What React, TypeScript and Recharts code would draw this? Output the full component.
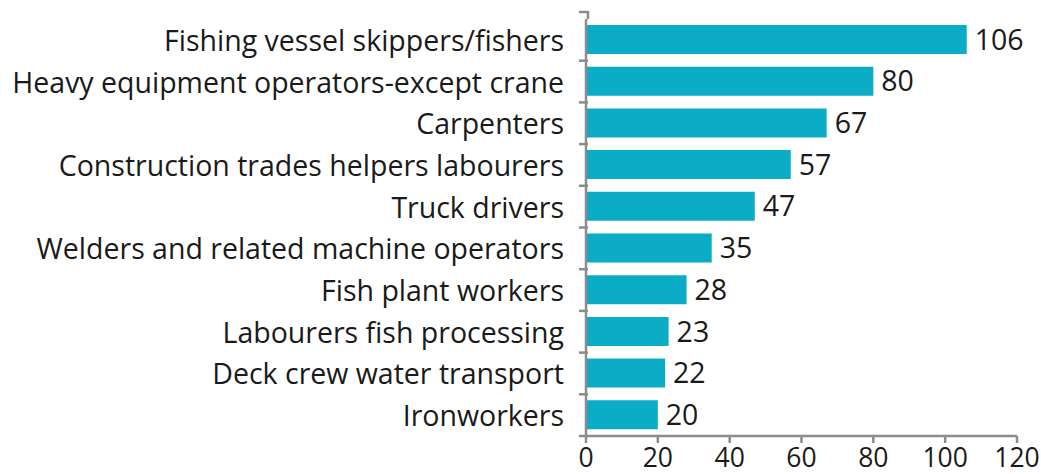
import { BarChart, Bar, XAxis, YAxis, LabelList } from 'recharts'

const occupations = [
  'Fishing vessel skippers/fishers',
  'Heavy equipment operators-except crane',
  'Carpenters',
  'Construction trades helpers labourers',
  'Truck drivers',
  'Welders and related machine operators',
  'Fish plant workers',
  'Labourers fish processing',
  'Deck crew water transport',
  'Ironworkers',
]
const counts = [106, 80, 67, 57, 47, 35, 28, 23, 22, 20]
const xTicks = [0, 20, 40, 60, 80, 100, 120]

const W = 1041
const H = 474
const TOP = 19
const X_AXIS_H = 38
const band = (H - TOP - X_AXIS_H) / occupations.length
const AXIS = '#8c8c8c'
const FONT = '"Open Sans", sans-serif'
const FS = 28.5

// category ticks sit between bars, like the original spreadsheet chart
function CategoryTick(props: any) {
  const { x, y, payload, index } = props
  const half = band / 2
  const ax = x + 10
  return (
    <g>
      {index === 0 ? (
        <>
          <line x1={ax} x2={ax} y1={y - half - 8} y2={y - half} stroke={AXIS} strokeWidth={2.5} />
          <line x1={ax - 9} x2={ax} y1={y - half - 7} y2={y - half - 7} stroke={AXIS} strokeWidth={2.5} />
        </>
      ) : (
        <line x1={ax - 9} x2={ax} y1={y - half} y2={y - half} stroke={AXIS} strokeWidth={2.5} />
      )}
      {index === occupations.length - 1 && (
        <line x1={ax - 9} x2={ax} y1={y + half} y2={y + half} stroke={AXIS} strokeWidth={2.5} />
      )}
      <text x={x - 14} y={y} textAnchor="end" dominantBaseline="central" fontSize={FS} fill="#1a1a1a" fontFamily={FONT}>
        {payload.value}
      </text>
    </g>
  )
}

export default function App() {
  const data = occupations.map((name, i) => ({ name, value: counts[i] }))

  return (
    <div style={{ position: 'absolute', left: 0, top: 0, background: '#fff' }}>
      <BarChart
        width={W}
        height={H}
        data={data}
        layout="vertical"
        margin={{ top: TOP, right: 24, bottom: 0, left: 0 }}
        barSize={29}
      >
        <XAxis
          type="number"
          domain={[0, 120]}
          ticks={xTicks}
          height={X_AXIS_H}
          axisLine={{ stroke: AXIS, strokeWidth: 2.5 }}
          tickLine={{ stroke: AXIS, strokeWidth: 2.5 }}
          tickSize={7}
          tickMargin={5}
          tick={{ fontSize: 26.5, fill: '#1a1a1a', fontFamily: FONT }}
          interval={0}
        />
        <YAxis
          type="category"
          dataKey="name"
          width={586}
          axisLine={{ stroke: AXIS, strokeWidth: 2.5 }}
          tickLine={false}
          tick={<CategoryTick />}
          interval={0}
        />
        <Bar dataKey="value" fill="#0aacc6" isAnimationActive={false}>
          <LabelList dataKey="value" position="right" offset={8} fontSize={FS} fill="#1a1a1a" fontFamily={FONT} />
        </Bar>
      </BarChart>
    </div>
  )
}
